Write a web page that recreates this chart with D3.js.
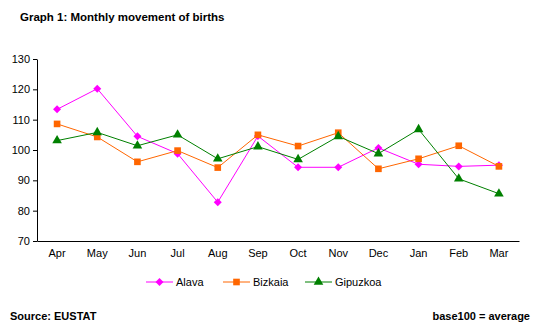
<!DOCTYPE html>
<html><head><meta charset="utf-8">
<script src="https://cdn.jsdelivr.net/npm/d3@7"></script>
<style>body{margin:0;background:#fff}svg{display:block;font-family:"Liberation Sans",Arial,sans-serif}</style>
</head><body><svg id="c" width="538" height="332"></svg>
<script>
const months = ["Apr","May","Jun","Jul","Aug","Sep","Oct","Nov","Dec","Jan","Feb","Mar"];
const alava = [113.4,120.2,104.5,98.8,82.8,104.6,94.3,94.3,100.7,95.3,94.6,95.0];
const bizkaia = [108.6,104.3,96.1,99.8,94.2,105.0,101.3,105.7,93.8,97.1,101.4,94.6];
const gipuzkoa = [103.1,105.8,101.4,105.0,97.1,101.1,96.9,104.5,98.8,106.8,90.5,85.6];
const yTicks = [70,80,90,100,110,120,130];
const seriesNames = ["Alava","Bizkaia","Gipuzkoa"];
const seriesColors = ["#FF00FF","#FF6600","#008000"];
const seriesData = [alava,bizkaia,gipuzkoa];
const rhombus = {draw(ctx,size){const r=Math.sqrt(size/2);ctx.moveTo(0,-r);ctx.lineTo(r,0);ctx.lineTo(0,r);ctx.lineTo(-r,0);ctx.closePath();}};
const symbols = [rhombus,d3.symbolSquare,d3.symbolTriangle];

const svg = d3.select("#c");
const x = d3.scaleBand().domain(months).range([37,519]);
const y = d3.scaleLinear().domain([70,130]).range([241,59]);

svg.append("text").attr("x",20).attr("y",21).attr("font-size",11.5).attr("font-weight","bold").text("Graph 1: Monthly movement of births");

const ya = svg.append("g").attr("transform","translate(37,0)")
  .call(d3.axisLeft(y).tickValues(yTicks).tickSize(4).tickSizeOuter(0).tickPadding(3));
ya.selectAll("text").attr("font-size",11).attr("font-family","'Liberation Sans',Arial,sans-serif").attr("fill","#000");
ya.select(".domain").attr("stroke","#000");
const xa = svg.append("g").attr("transform","translate(0,241)")
  .call(d3.axisBottom(x).tickSize(0).tickSizeOuter(0).tickPadding(8));
xa.selectAll("text").attr("font-size",11).attr("font-family","'Liberation Sans',Arial,sans-serif").attr("fill","#000");
xa.select(".domain").attr("stroke","#000");

const sizes=[32,44,40];
seriesData.forEach((vals,i)=>{
  const line = d3.line().x((d,j)=>x(months[j])+x.bandwidth()/2).y(d=>y(d));
  svg.append("path").attr("d",line(vals)).attr("fill","none").attr("stroke",seriesColors[i]).attr("stroke-width",1);
  svg.append("g").selectAll("path").data(vals).join("path")
    .attr("transform",(d,j)=>`translate(${x(months[j])+x.bandwidth()/2},${y(d)})`)
    .attr("d",d3.symbol().type(symbols[i]).size(sizes[i])).attr("fill",seriesColors[i]);
});

const legX=[146,223,305];
seriesNames.forEach((n,i)=>{
  const g=svg.append("g").attr("transform",`translate(${legX[i]},282)`);
  g.append("line").attr("x1",0).attr("x2",27).attr("stroke",seriesColors[i]);
  g.append("path").attr("transform","translate(13.5,0)").attr("d",d3.symbol().type(symbols[i]).size(sizes[i])).attr("fill",seriesColors[i]);
  g.append("text").attr("x",30).attr("y",4).attr("font-size",11).text(n);
});

svg.append("text").attr("x",10).attr("y",320).attr("font-size",11).attr("font-weight","bold").text("Source: EUSTAT");
svg.append("text").attr("x",530).attr("y",320).attr("text-anchor","end").attr("font-size",11).attr("font-weight","bold").text("base100 = average");
</script></body></html>
